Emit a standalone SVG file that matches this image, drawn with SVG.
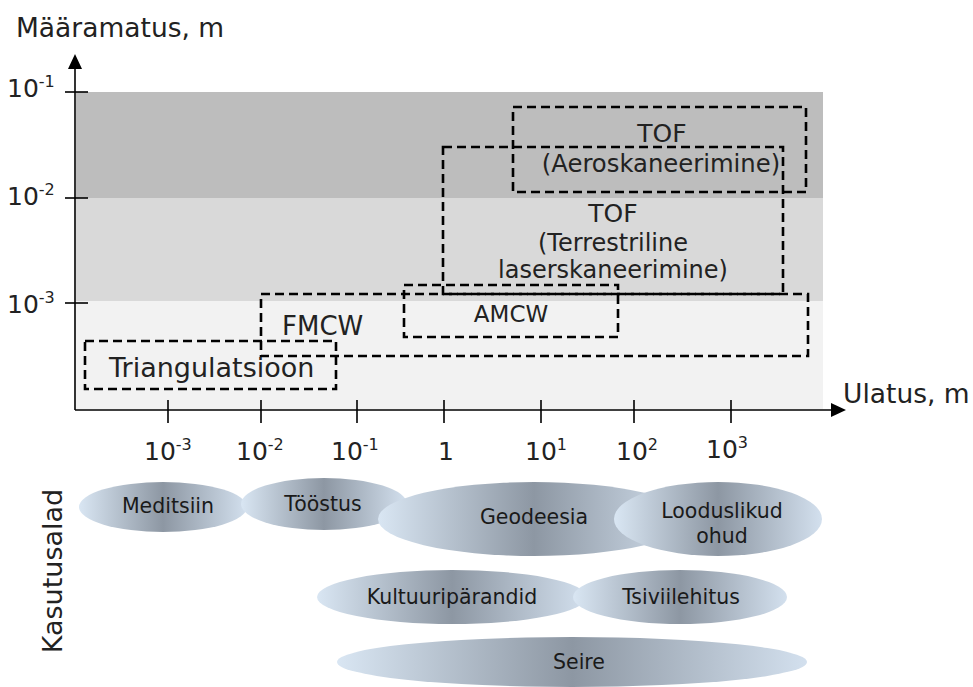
<svg xmlns="http://www.w3.org/2000/svg" width="973" height="687" viewBox="0 0 973 687">
<style>
text{font-family:"DejaVu Sans","Liberation Sans",sans-serif;fill:#222}
.ax{stroke:#000;stroke-width:1.6;fill:none}
.box{fill:none;stroke:#000;stroke-width:2.6;stroke-dasharray:9 5}
.tick{font-size:25px}
.sup{font-size:16px}
.lbl{font-size:26.5px}
.el{fill:url(#g)}
.et{font-size:20.5px;text-anchor:middle;fill:#1a1a1a}
.bt{text-anchor:middle}
</style>
<defs>
<linearGradient id="g" x1="0" y1="0" x2="1" y2="0">
<stop offset="0" stop-color="#d9e6f3"/>
<stop offset="0.5" stop-color="#8d97a3"/>
<stop offset="1" stop-color="#d3e0ee"/>
</linearGradient>
</defs>
<g id="bands">
<rect x="76" y="92" width="747" height="106" fill="#bdbdbd"/>
<rect x="76" y="198" width="747" height="103" fill="#d9d9d9"/>
<rect x="76" y="301" width="747" height="108" fill="#f2f2f2"/>
</g>
<g id="axes">
<line class="ax" x1="75" y1="410" x2="75" y2="64"/>
<polygon points="75,54 68,69 82,69" fill="#000"/>
<line class="ax" x1="75" y1="410" x2="834" y2="410"/>
<polygon points="846,410 831,403 831,417" fill="#000"/>
<line class="ax" x1="65" y1="92" x2="88" y2="92"/>
<line class="ax" x1="65" y1="198" x2="88" y2="198"/>
<line class="ax" x1="65" y1="303" x2="88" y2="303"/>
<line class="ax" x1="168" y1="400" x2="168" y2="423"/>
<line class="ax" x1="261" y1="400" x2="261" y2="423"/>
<line class="ax" x1="357" y1="400" x2="357" y2="423"/>
<line class="ax" x1="444" y1="400" x2="444" y2="423"/>
<line class="ax" x1="541" y1="400" x2="541" y2="423"/>
<line class="ax" x1="634" y1="400" x2="634" y2="423"/>
<line class="ax" x1="731" y1="400" x2="731" y2="423"/>
<text class="lbl" x="16" y="37">Määramatus, m</text>
<text class="lbl" x="843" y="403">Ulatus, m</text>
<text class="tick" x="7" y="97">10<tspan class="sup" dy="-10">-1</tspan></text>
<text class="tick" x="7" y="205">10<tspan class="sup" dy="-10">-2</tspan></text>
<text class="tick" x="7" y="313">10<tspan class="sup" dy="-10">-3</tspan></text>
<text class="tick" x="144" y="460">10<tspan class="sup" dy="-10">-3</tspan></text>
<text class="tick" x="236" y="460">10<tspan class="sup" dy="-10">-2</tspan></text>
<text class="tick" x="331" y="460">10<tspan class="sup" dy="-10">-1</tspan></text>
<text class="tick" x="438" y="460">1</text>
<text class="tick" x="525" y="460">10<tspan class="sup" dy="-10">1</tspan></text>
<text class="tick" x="616" y="460">10<tspan class="sup" dy="-10">2</tspan></text>
<text class="tick" x="706" y="458">10<tspan class="sup" dy="-10">3</tspan></text>
</g>
<g id="tof-aero">
<rect class="box" x="513" y="107" width="293" height="85"/>
<text class="bt" x="662" y="142" font-size="25">TOF</text>
<text class="bt" x="661" y="172" font-size="24.3">(Aeroskaneerimine)</text>
</g>
<g id="tof-terr">
<rect class="box" x="443" y="147" width="340" height="147"/>
<text class="bt" x="613" y="222" font-size="25">TOF</text>
<text class="bt" x="613" y="251" font-size="24">(Terrestriline</text>
<text class="bt" x="613" y="278" font-size="24">laserskaneerimine)</text>
</g>
<g id="fmcw">
<rect class="box" x="261" y="294" width="547" height="62"/>
<text x="282" y="335" font-size="26">FMCW</text>
</g>
<g id="amcw">
<rect class="box" x="404" y="285" width="214" height="52"/>
<text class="bt" x="511" y="322" font-size="23">AMCW</text>
</g>
<g id="triangulatsioon">
<rect class="box" x="85" y="341" width="251" height="48"/>
<text x="109" y="377" font-size="27">Triangulatsioon</text>
</g>
<text font-size="27" transform="translate(62,571) rotate(-90)" text-anchor="middle">Kasutusalad</text>
<g id="meditsiin"><ellipse class="el" cx="163" cy="507" rx="84" ry="25"/><text class="et" x="168" y="513">Meditsiin</text></g>
<g id="tööstus"><ellipse class="el" cx="324" cy="504" rx="83" ry="26"/><text class="et" x="323" y="511">Tööstus</text></g>
<g id="geodeesia"><ellipse class="el" cx="534" cy="519" rx="156" ry="37"/><text class="et" x="534" y="524">Geodeesia</text></g>
<g id="looduslikud"><ellipse class="el" cx="718" cy="519" rx="104" ry="37"/><text class="et" x="722" y="518">Looduslikud</text><text class="et" x="722" y="543">ohud</text></g>
<g id="kultuur"><ellipse class="el" cx="452" cy="597" rx="135" ry="27"/><text class="et" x="452" y="604">Kultuuripärandid</text></g>
<g id="tsiviil"><ellipse class="el" cx="680" cy="597" rx="107" ry="27"/><text class="et" x="681" y="604">Tsiviilehitus</text></g>
<g id="seire"><ellipse class="el" cx="572" cy="662" rx="235" ry="25"/><text class="et" x="579" y="669">Seire</text></g>
</svg>
